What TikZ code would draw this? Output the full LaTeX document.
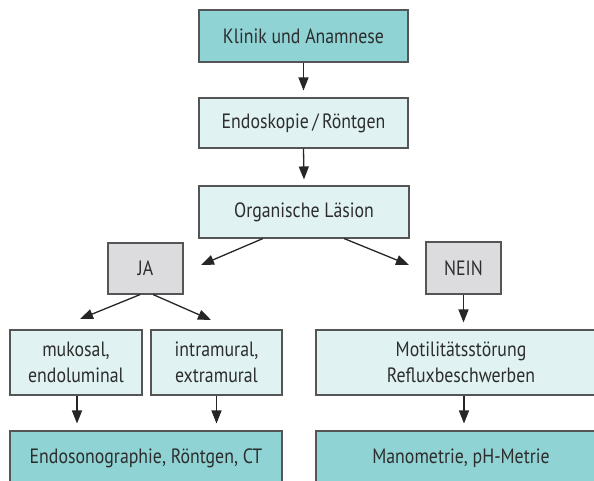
\documentclass[tikz,border=0pt]{standalone}
\usepackage{fontspec}
\setmainfont{PT Sans}[FakeStretch=0.86]
\usetikzlibrary{arrows.meta,calc}
\definecolor{darkteal}{RGB}{143,211,212}
\definecolor{lightteal}{RGB}{224,242,242}
\definecolor{boxgrey}{RGB}{220,220,222}
\definecolor{edge}{RGB}{85,85,85}
\definecolor{txt}{RGB}{45,45,45}
\begin{document}
\begin{tikzpicture}[x=1pt,y=-1pt,
  every node/.style={font=\fontsize{20.7}{26}\selectfont, text=txt},
  basebox/.style={draw=edge, line width=1.1pt, inner sep=0pt, align=center},
  darkbox/.style={basebox, fill=darkteal},
  lightbox/.style={basebox, fill=lightteal},
  greybox/.style={basebox, fill=boxgrey},
  arr/.style={line width=1.3pt, draw=black!85, -{Triangle[length=13pt,width=10pt]}}
]
\useasboundingbox (0,0) rectangle (594,481);
\clip (0,0) rectangle (594,481);
\node[darkbox, minimum width=209pt, minimum height=52pt] (klinik) at (303.5,36) {Klinik und Anamnese};
\node[lightbox, minimum width=209pt, minimum height=50pt] (endo) at (303.5,123) {Endoskopie\,/\,Röntgen};
\node[lightbox, minimum width=210pt, minimum height=52pt] (org) at (304,212) {Organische Läsion};
\node[greybox, minimum width=75pt, minimum height=51pt] (ja) at (145.5,268.5) {JA};
\node[greybox, minimum width=75pt, minimum height=52pt] (nein) at (463.5,268) {NEIN};
\node[lightbox, minimum width=132pt, minimum height=65pt] (muk) at (76,362.5) {mukosal,\\endoluminal};
\node[lightbox, minimum width=131pt, minimum height=65pt] (intra) at (216.5,362.5) {intramural,\\extramural};
\node[lightbox, minimum width=290pt, minimum height=65pt] (moti) at (461,362.5) {Motilitätsstörung\\Refluxbeschwerben};
\node[darkbox, minimum width=272pt, minimum height=54pt] (ct) at (146,458) {Endosonographie, Röntgen, CT};
\node[darkbox, minimum width=290pt, minimum height=54pt] (mano) at (461,458) {Manometrie, pH-Metrie};

\coordinate (orgL) at (201,265);
\coordinate (orgR) at (409,265);
\coordinate (jaL) at (80,319);
\coordinate (jaR) at (211,320);

\draw[arr] (klinik.south) -- ($(endo.north)+(0,-7)$);
\draw[arr] (endo.south) -- ($(org.north)+(0,-6)$);
\draw[arr] ($(org.south west)!0.305!(org.south east)$) -- (orgL);
\draw[arr] ($(org.south west)!0.69!(org.south east)$) -- (orgR);
\draw[arr] ($(ja.south west)!0.43!(ja.south east)$) -- (jaL);
\draw[arr] ($(ja.south west)!0.6!(ja.south east)$) -- (jaR);
\draw[arr] (nein.south) -- ($(nein.south |- moti.north)+(0,-7)$);
\draw[arr] ($(muk.south)+(1,0)$) -- ($(muk.south |- ct.north)+(1,-7)$);
\draw[arr] (intra.south) -- ($(intra.south |- ct.north)+(0,-7)$);
\draw[arr] ($(moti.south)+(3,0)$) -- ($(moti.south |- mano.north)+(3,-7)$);
\end{tikzpicture}
\end{document}
